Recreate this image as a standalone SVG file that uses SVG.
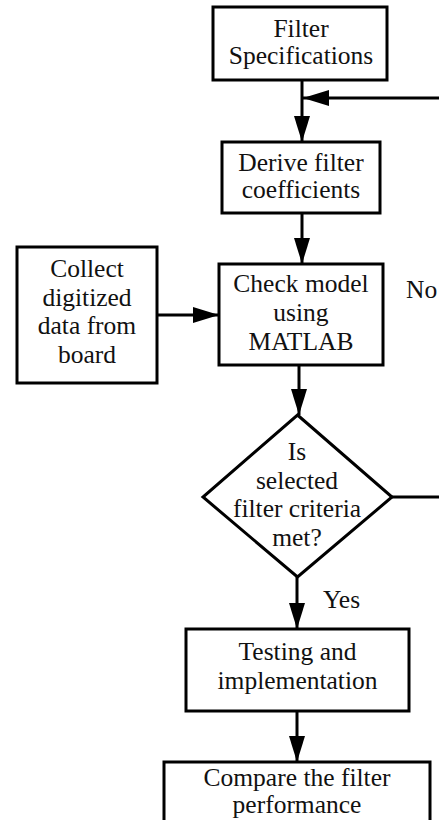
<svg xmlns="http://www.w3.org/2000/svg" width="439" height="820" viewBox="0 0 439 820">
<style>
.box{fill:#fff;stroke:#000;stroke-width:3}
.ln{fill:none;stroke:#000;stroke-width:3}
.t{font-family:"Liberation Serif","Times New Roman",serif;font-size:25.5px;fill:#111;text-anchor:middle}
.s{text-anchor:start}
</style>
<defs>
<marker id="ah" markerWidth="26" markerHeight="16" refX="26" refY="8" orient="auto" markerUnits="userSpaceOnUse">
<path d="M0,0 L26,8 L0,16 Z" fill="#000"/>
</marker>
</defs>
<rect width="439" height="820" fill="#fff"/>
<g id="connectors">
<line class="ln" x1="302" y1="80" x2="302" y2="142" marker-end="url(#ah)"/>
<line class="ln" x1="439" y1="98" x2="303" y2="98" marker-end="url(#ah)"/>
<line class="ln" x1="302" y1="213" x2="302" y2="264" marker-end="url(#ah)"/>
<line class="ln" x1="157" y1="315" x2="219" y2="315" marker-end="url(#ah)"/>
<line class="ln" x1="299" y1="365" x2="299" y2="415" marker-end="url(#ah)"/>
<line class="ln" x1="392" y1="497" x2="439" y2="497"/>
<line class="ln" x1="297" y1="577" x2="297" y2="629" marker-end="url(#ah)"/>
<line class="ln" x1="297" y1="711" x2="297" y2="762" marker-end="url(#ah)"/>
<text class="t s" x="406" y="298">No</text>
<text class="t s" x="323" y="608">Yes</text>
</g>
<g id="filter-spec">
<rect class="box" x="213" y="7" width="174" height="73"/>
<text class="t" x="301" y="37">Filter</text>
<text class="t" x="301" y="64">Specifications</text>
</g>
<g id="derive">
<rect class="box" x="222" y="142" width="158" height="71"/>
<text class="t" x="301" y="171">Derive filter</text>
<text class="t" x="301" y="198">coefficients</text>
</g>
<g id="collect">
<rect class="box" x="17" y="247" width="140" height="136"/>
<text class="t" x="87" y="277">Collect</text>
<text class="t" x="87" y="306">digitized</text>
<text class="t" x="87" y="334">data from</text>
<text class="t" x="87" y="363">board</text>
</g>
<g id="check">
<rect class="box" x="219" y="264" width="164" height="101"/>
<text class="t" x="301" y="292">Check model</text>
<text class="t" x="301" y="321">using</text>
<text class="t" x="301" y="350">MATLAB</text>
</g>
<g id="decision">
<polygon class="box" points="297.5,415 392,497 297.5,577 203,497"/>
<text class="t" x="297" y="460">Is</text>
<text class="t" x="297" y="489">selected</text>
<text class="t" x="297" y="517">filter criteria</text>
<text class="t" x="297" y="546">met?</text>
</g>
<g id="testing">
<rect class="box" x="186" y="629" width="223" height="82"/>
<text class="t" x="297.5" y="660">Testing and</text>
<text class="t" x="297.5" y="689">implementation</text>
</g>
<g id="compare">
<rect class="box" x="164" y="762" width="266" height="70"/>
<text class="t" x="297" y="786">Compare the filter</text>
<text class="t" x="297" y="813">performance</text>
</g>
</svg>
